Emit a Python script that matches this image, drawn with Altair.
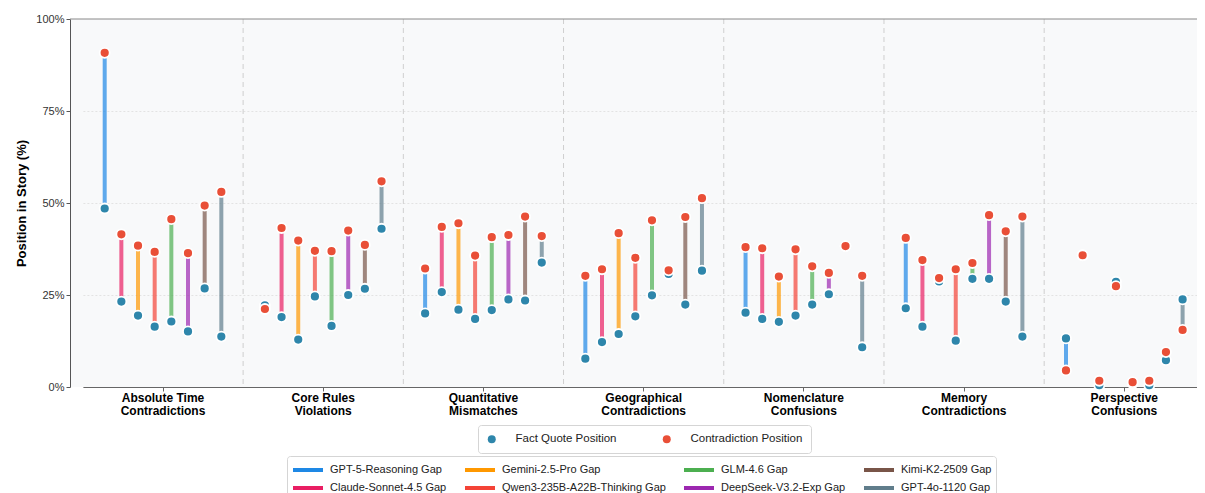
import altair as alt
import pandas as pd

categories = ["Absolute Time|Contradictions", "Core Rules|Violations", "Quantitative|Mismatches",
              "Geographical|Contradictions", "Nomenclature|Confusions", "Memory|Contradictions",
              "Perspective|Confusions"]
models = ["GPT-5-Reasoning", "Claude-Sonnet-4.5", "Gemini-2.5-Pro", "Qwen3-235B-A22B-Thinking",
          "GLM-4.6", "DeepSeek-V3.2-Exp", "Kimi-K2-2509", "GPT-4o-1120"]
model_colors = ["#1E88E5", "#E91E63", "#FF9800", "#F44336", "#4CAF50", "#9C27B0", "#795548", "#607D8B"]
point_types = ["Fact Quote Position", "Contradiction Position"]
point_colors = ["#2E86AB", "#E94F37"]

abs_fact = [48.5, 23.2, 19.4, 16.4, 17.8, 15.1, 26.8, 13.7]
abs_contra = [90.8, 41.5, 38.4, 36.7, 45.6, 36.4, 49.3, 53.0]
core_fact = [22.2, 19.0, 12.9, 24.6, 16.6, 25.0, 26.7, 43.0]
core_contra = [21.2, 43.2, 39.8, 37.0, 36.9, 42.5, 38.6, 55.9]
quant_fact = [20.0, 25.8, 21.0, 18.5, 20.9, 23.8, 23.5, 33.8]
quant_contra = [32.2, 43.5, 44.5, 35.7, 40.7, 41.3, 46.3, 41.0]
geo_fact = [7.7, 12.2, 14.4, 19.2, 24.9, 30.7, 22.4, 31.6]
geo_contra = [30.2, 32.0, 41.8, 35.1, 45.3, 31.7, 46.2, 51.3]
nom_fact = [20.2, 18.5, 17.7, 19.4, 22.4, 25.2, 38.3, 10.8]
nom_contra = [38.0, 37.7, 30.0, 37.4, 32.8, 31.0, 38.3, 30.2]
mem_fact = [21.4, 16.4, 28.7, 12.6, 29.4, 29.4, 23.2, 13.7]
mem_contra = [40.5, 34.5, 29.6, 32.0, 33.7, 46.7, 42.3, 46.3]
persp_fact = [13.2, 35.8, 0.5, 28.6, 1.0, 0.5, 7.3, 23.8]
persp_contra = [4.5, 35.8, 1.7, 27.4, 1.3, 1.7, 9.5, 15.5]

fact_lists = [abs_fact, core_fact, quant_fact, geo_fact, nom_fact, mem_fact, persp_fact]
contra_lists = [abs_contra, core_contra, quant_contra, geo_contra, nom_contra, mem_contra, persp_contra]

rows = []
for c, fl, cl in zip(categories, fact_lists, contra_lists):
    for m, f, v in zip(models, fl, cl):
        rows.append({"category": c, "model": m, "fact": f, "contra": v})
df = pd.DataFrame(rows)

pts = pd.concat([
    pd.DataFrame({"category": df["category"], "model": df["model"], "value": df["fact"], "type": point_types[0]}),
    pd.DataFrame({"category": df["category"], "model": df["model"], "value": df["contra"], "type": point_types[1]}),
], ignore_index=True)

legend_order = [models[i] for i in [0, 2, 4, 6, 1, 3, 5, 7]]
legend_colors = [model_colors[i] for i in [0, 2, 4, 6, 1, 3, 5, 7]]

PLOT_W = 1127
PLOT_H = 368

x_scale = alt.Scale(paddingInner=0, paddingOuter=0, range=[12.9, 1134.4])
x_axis = alt.Axis(title=None, labelExpr="split(datum.label, '|')", labelAngle=0,
                  labelFontWeight="bold", labelFontSize=12, labelColor="#000000",
                  labelLineHeight=13, domainColor="#666666", tickColor="#666666",
                  tickSize=4, labelPadding=1, grid=False, labelOverlap=False)
x_enc = alt.X("category:N", sort=categories, scale=x_scale, axis=x_axis)
xoff = alt.XOffset("model:N", sort=models, scale=alt.Scale(paddingInner=0, paddingOuter=0.808))
y_scale = alt.Scale(domain=[0, 100], nice=False)
y_axis = alt.Axis(title="Position in Story (%)", titleFontWeight="bold", titleFontSize=13,
                  titleColor="#000000", titlePadding=7, labelFontSize=11, labelColor="#333333",
                  values=[0, 25, 50, 75, 100], labelExpr="datum.value + '%'",
                  tickSize=4, tickColor="#555555", domainColor="#555555",
                  gridColor="#e3e3e3", gridDash=[2, 2], labelPadding=2,
                  gridOpacity=alt.condition("datum.value == 0 || datum.value == 100",
                                            alt.value(0), alt.value(1)))

seps = alt.Chart(pd.DataFrame({"category": categories[1:]})).mark_rule(
    color="#cfcfcf", strokeDash=[5, 4], strokeWidth=1
).encode(x=alt.X("category:N", sort=categories, bandPosition=0, scale=x_scale, axis=x_axis))

top_border = alt.Chart(pd.DataFrame({"category": categories[:1]})).mark_rule(
    color="#888888", strokeWidth=1
).encode(y=alt.value(0), x=alt.value(0), x2=alt.value(PLOT_W))

gaps = alt.Chart(df).mark_rule(strokeWidth=4, opacity=0.7).encode(
    x=x_enc, xOffset=xoff,
    y=alt.Y("fact:Q", scale=y_scale, axis=y_axis),
    y2="contra:Q",
    stroke=alt.Stroke("model:N", scale=alt.Scale(domain=legend_order, range=legend_colors),
                      legend=alt.Legend(orient="none", legendX=217, legendY=437, columns=4,
                                        direction="horizontal", title=None,
                                        symbolType="M-1,0H2.75", symbolSize=256,
                                        symbolStrokeWidth=4, symbolOpacity=1,
                                        labelFontSize=11, labelColor="#222222", labelOffset=19,
                                        columnPadding=10, rowPadding=0, padding=4,
                                        gridAlign="each",
                                        labelExpr="datum.label + ' Gap'", labelLimit=300,
                                        fillColor="white", strokeColor="#d5d5d5", cornerRadius=3)),
)

points = alt.Chart(pts).mark_circle(size=100, opacity=1, stroke="white", strokeWidth=1.8).encode(
    x=x_enc, xOffset=xoff,
    y=alt.Y("value:Q", scale=y_scale, axis=y_axis),
    fill=alt.Fill("type:N", scale=alt.Scale(domain=point_types, range=point_colors),
                  legend=alt.Legend(orient="none", legendX=408, legendY=406, direction="horizontal",
                                    title=None, symbolType="circle", symbolSize=64,
                                    symbolStrokeWidth=0, labelFontSize=11.5, labelColor="#222222",
                                    labelOffset=18, columnPadding=44, padding=8,
                                    fillColor="white", strokeColor="#d5d5d5", cornerRadius=3,
                                    labelLimit=300)),
)

chart = alt.layer(seps, top_border, gaps, points).properties(
    width=PLOT_W, height=PLOT_H, padding={"left": 62, "top": 11, "right": 0, "bottom": 110},
    autosize="none"
).configure(font="Liberation Sans").configure_view(fill="#F8F9FA", strokeWidth=0)

chart.save("out.html", embed_options={"renderer": "svg", "actions": False})
